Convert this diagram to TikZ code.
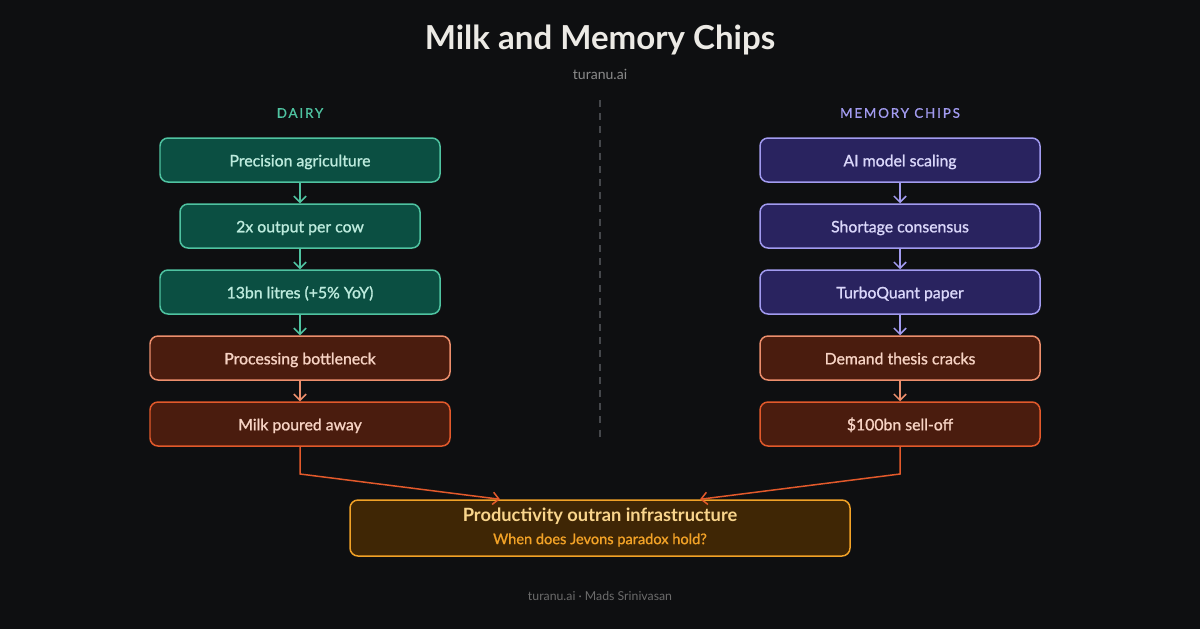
\documentclass[tikz,border=0pt]{standalone}
\usepackage{fontspec}
\setmainfont{Lato}
\newfontfamily\medium{Lato}[FakeBold=1.1]
\newfontfamily\spaced{Lato}[FakeBold=0.9,LetterSpace=14]
\usepackage{tikz}
\usetikzlibrary{arrows.meta,positioning}
\usepackage{xcolor}
\definecolor{Bg}{HTML}{0E0F11}
\definecolor{TitleWhite}{HTML}{ECEAE5}
\definecolor{SubGray}{HTML}{8A8A8A}
\definecolor{FootGray}{HTML}{6B6B6B}
\definecolor{DashGray}{HTML}{45474B}
\definecolor{MintLine}{HTML}{4FC3A1}
\definecolor{MintFill}{HTML}{0B4F42}
\definecolor{MintText}{HTML}{BDEBDD}
\definecolor{LilacLine}{HTML}{A29BF0}
\definecolor{LilacFill}{HTML}{29235F}
\definecolor{LilacText}{HTML}{DAD7FA}
\definecolor{RustFill}{HTML}{4A1C0E}
\definecolor{SalmonLine}{HTML}{EC8E6C}
\definecolor{FlameLine}{HTML}{E2592B}
\definecolor{RustText}{HTML}{F7D3C4}
\definecolor{AmberLine}{HTML}{F2A227}
\definecolor{AmberFill}{HTML}{3F2605}
\definecolor{AmberText}{HTML}{F9D58C}

\begin{document}
\begin{tikzpicture}[
    box/.style={draw, rounded corners=0.16cm, line width=0.85pt, minimum height=0.88cm,
                inner sep=0pt, text height=0.9em, text depth=0.18em,
                font=\medium\fontsize{9}{10}\selectfont},
    green/.style={box, draw=MintLine, fill=MintFill, text=MintText},
    purple/.style={box, draw=LilacLine, fill=LilacFill, text=LilacText},
    rust/.style={box, fill=RustFill, text=RustText},
    flow/.style={-{Straight Barb[length=3.5pt,width=7pt]}, line width=0.85pt},
    colhead/.style={font=\spaced\fontsize{7.6}{9}\selectfont}
  ]
    % Background and frame
    \fill[Bg] (0,0) rectangle (24,-12.58);
    \useasboundingbox (0,0) rectangle (24,-12.58);
    % Title block
    \node[font=\fontsize{18.8}{22}\selectfont\bfseries, text=TitleWhite] (title) at (12,-0.8) {Milk and Memory Chips};
    \node[font=\fontsize{8}{10}\selectfont, text=SubGray] (site) at (12,-1.48) {turanu.ai};
    % Divider
    \draw[DashGray, line width=0.7pt, dash pattern=on 4pt off 3.5pt] (12,-2.0) -- (12,-8.8);
    % Column headers
    \node[colhead, text=MintLine] (dairyhd) at (6,-2.26) {DAIRY};
    \node[colhead, text=LilacLine] (chipshd) at (18,-2.26) {MEMORY CHIPS};
    % Dairy chain
    \node[green, minimum width=5.6cm] (d1) at (6,-3.2)  {Precision agriculture};
    \node[green, minimum width=4.8cm] (d2) at (6,-4.52) {2x output per cow};
    \node[green, minimum width=5.6cm] (d3) at (6,-5.84) {13bn litres (+5\% YoY)};
    \node[rust, draw=SalmonLine, minimum width=6cm] (d4) at (6,-7.16) {Processing bottleneck};
    \node[rust, draw=FlameLine, minimum width=6cm]  (d5) at (6,-8.48) {Milk poured away};
    % Chips chain
    \node[purple, minimum width=5.6cm] (c1) at (18,-3.2)  {AI model scaling};
    \node[purple, minimum width=5.6cm] (c2) at (18,-4.52) {Shortage consensus};
    \node[purple, minimum width=5.6cm] (c3) at (18,-5.84) {TurboQuant paper};
    \node[rust, draw=SalmonLine, minimum width=5.6cm] (c4) at (18,-7.16) {Demand thesis cracks};
    \node[rust, draw=FlameLine, minimum width=5.6cm]  (c5) at (18,-8.48) {\$100bn sell-off};
    % Arrows down each column
    \draw[flow, MintLine]   (d1) -- (d2);
    \draw[flow, MintLine]   (d2) -- (d3);
    \draw[flow, MintLine]   (d3) -- (d4);
    \draw[flow, SalmonLine] (d4) -- (d5);
    \draw[flow, LilacLine]  (c1) -- (c2);
    \draw[flow, LilacLine]  (c2) -- (c3);
    \draw[flow, LilacLine]  (c3) -- (c4);
    \draw[flow, SalmonLine] (c4) -- (c5);
    % Conclusion
    \node[box, draw=AmberLine, fill=AmberFill, minimum width=10cm, minimum height=1.12cm] (end) at (12,-10.56) {};
    \node[font=\fontsize{10.4}{12}\selectfont\bfseries, text=AmberText] (endtitle) at (12,-10.32) {Productivity outran infrastructure};
    \node[font=\medium\fontsize{8.3}{9}\selectfont, text=AmberLine] (endsub) at (12,-10.8) {When does Jevons paradox hold?};
    \coordinate (lbend) at (6,-9.48);
    \coordinate (rbend) at (18,-9.48);
    \draw[flow, FlameLine] (d5.south) -- (lbend) -- (end.north -| 10,0);
    \draw[flow, FlameLine] (c5.south) -- (rbend) -- (end.north -| 14,0);
    % Footer
    \node[font=\fontsize{7}{9}\selectfont, text=FootGray] (foot) at (12,-11.92) {turanu.ai · Mads Srinivasan};
  \end{tikzpicture}
\end{document}
